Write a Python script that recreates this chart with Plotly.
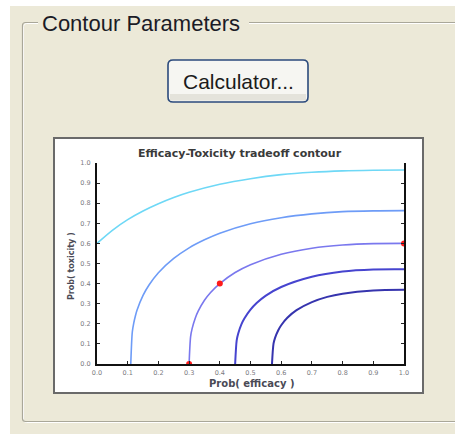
import plotly.graph_objects as go

# ---- data ----
c1_x = [0.0, 0.05, 0.1, 0.15, 0.2, 0.25, 0.3, 0.4, 0.5, 0.6, 0.7, 0.8, 0.9, 1.0]
c1_y = [0.600, 0.665, 0.718, 0.761, 0.797, 0.828, 0.854, 0.894, 0.922, 0.942, 0.954, 0.961, 0.964, 0.965]

c2_x = [0.11, 0.115, 0.12, 0.125, 0.13, 0.15, 0.17, 0.2, 0.25, 0.3, 0.35, 0.4, 0.5, 0.6, 0.7, 0.8, 0.9, 1.0]
c2_y = [0.0, 0.159, 0.206, 0.239, 0.266, 0.341, 0.394, 0.454, 0.525, 0.578, 0.618, 0.651, 0.698, 0.728, 0.747, 0.758, 0.762, 0.763]

c3_x = [0.3, 0.305, 0.31, 0.32, 0.33, 0.35, 0.37, 0.4, 0.45, 0.5, 0.6, 0.7, 0.8, 0.9, 1.0]
c3_y = [0.0, 0.137, 0.177, 0.228, 0.264, 0.317, 0.356, 0.400, 0.455, 0.494, 0.546, 0.576, 0.592, 0.599, 0.600]

c4_x = [0.45, 0.455, 0.46, 0.47, 0.48, 0.5, 0.52, 0.55, 0.6, 0.7, 0.8, 0.9, 1.0]
c4_y = [0.0, 0.118, 0.152, 0.196, 0.226, 0.270, 0.303, 0.340, 0.383, 0.434, 0.460, 0.470, 0.471]

c5_x = [0.57, 0.575, 0.58, 0.59, 0.6, 0.62, 0.65, 0.7, 0.75, 0.8, 0.9, 1.0]
c5_y = [0.0, 0.101, 0.130, 0.167, 0.193, 0.230, 0.268, 0.308, 0.334, 0.350, 0.366, 0.369]

pts_x = [0.3, 0.4, 1.0]
pts_y = [0.0, 0.4, 0.6]

tick_vals = [0.0, 0.1, 0.2, 0.3, 0.4, 0.5, 0.6, 0.7, 0.8, 0.9, 1.0]
tick_text = ["0.0", "0.1", "0.2", "0.3", "0.4", "0.5", "0.6", "0.7", "0.8", "0.9", "1.0"]

curve_colors = ["#6ED8F6", "#6E9CF7", "#7A78EE", "#4644CF", "#3634AE"]
curve_widths = [1.6, 1.6, 1.6, 2.0, 2.0]

# ---- layout geometry (pixels) ----
W, H = 455, 435
PL, PR, PT, PB = 97, 404, 163, 364   # plot area edges in px


def px(x):
    return (x - PL) / (PR - PL)


def py(y):
    return (PB - y) / (PB - PT)


def rrect_path(x0, y0, x1, y1, r):
    rx = r / (PR - PL)
    ry = r / (PB - PT)
    X0, X1 = px(x0), px(x1)
    Y0, Y1 = py(y0), py(y1)  # Y0 top (larger), Y1 bottom
    return (f"M{X0+rx},{Y0} L{X1-rx},{Y0} Q{X1},{Y0} {X1},{Y0-ry} "
            f"L{X1},{Y1+ry} Q{X1},{Y1} {X1-rx},{Y1} L{X0+rx},{Y1} "
            f"Q{X0},{Y1} {X0},{Y1+ry} L{X0},{Y0-ry} Q{X0},{Y0} {X0+rx},{Y0} Z")


BEIGE = "#ECE9D8"

fig = go.Figure()
curves = [(c1_x, c1_y), (c2_x, c2_y), (c3_x, c3_y), (c4_x, c4_y), (c5_x, c5_y)]
for (cx, cy), col, lw in zip(curves, curve_colors, curve_widths):
    fig.add_trace(go.Scatter(x=cx, y=cy, mode="lines",
                             line=dict(color=col, width=lw, shape="spline", smoothing=0.8),
                             hoverinfo="skip", showlegend=False))
fig.add_trace(go.Scatter(x=pts_x, y=pts_y, mode="markers",
                         marker=dict(color="#FF1A1A", size=6),
                         hoverinfo="skip", showlegend=False))

shapes = []
# window background
shapes.append(dict(type="rect", xref="paper", yref="paper", layer="below",
                   x0=px(10), x1=px(470), y0=py(6), y1=py(434),
                   fillcolor=BEIGE, line=dict(width=0)))
# group box (etched)
shapes.append(dict(type="path", xref="paper", yref="paper", layer="below",
                   path=rrect_path(23.5, 23.5, 470, 422.5, 3),
                   line=dict(color="#FFFFFF", width=1)))
shapes.append(dict(type="path", xref="paper", yref="paper", layer="below",
                   path=rrect_path(22.5, 22.5, 469, 421.5, 3),
                   line=dict(color="#A9A799", width=1.2)))
# gap behind group caption
shapes.append(dict(type="rect", xref="paper", yref="paper", layer="below",
                   x0=px(38), x1=px(249), y0=py(17), y1=py(28),
                   fillcolor=BEIGE, line=dict(width=0)))
# button
shapes.append(dict(type="path", xref="paper", yref="paper", layer="below",
                   path=rrect_path(168, 60, 308, 102, 5),
                   fillcolor="#F6F6F2", line=dict(color="#2B4A7C", width=1.6)))
shapes.append(dict(type="rect", xref="paper", yref="paper", layer="below",
                   x0=px(170), x1=px(306), y0=py(94), y1=py(100.5),
                   fillcolor="#E4E3DB", line=dict(width=0)))
# chart panel
shapes.append(dict(type="rect", xref="paper", yref="paper", layer="below",
                   x0=px(54), x1=px(423), y0=py(138), y1=py(393),
                   fillcolor="#FFFFFF", line=dict(color="#6A6A6A", width=2)))
fig.update_layout(shapes=shapes)

annotations = [
    dict(text="Contour Parameters", x=px(140.5), y=py(24), xref="paper", yref="paper",
         showarrow=False, xanchor="center", yanchor="middle",
         font=dict(family="Arial, Liberation Sans", size=22, color="#1B1B26")),
    dict(text="Calculator...", x=px(238.5), y=py(81), xref="paper", yref="paper",
         showarrow=False, xanchor="center", yanchor="middle",
         font=dict(family="Arial, Liberation Sans", size=21, color="#1B1B1B")),
    dict(text="<b>Efficacy-Toxicity tradeoff contour</b>", x=px(239.5), y=py(153),
         xref="paper", yref="paper", showarrow=False, xanchor="center", yanchor="middle",
         font=dict(family="DejaVu Sans", size=11, color="#3A3A3A")),
    dict(text="<b>Prob( efficacy )</b>", x=px(251.5), y=py(383.5),
         xref="paper", yref="paper", showarrow=False, xanchor="center", yanchor="middle",
         font=dict(family="DejaVu Sans", size=10, color="#4A4A55")),
    dict(text="<b>Prob( toxicity )</b>", x=px(71), y=py(266), textangle=-90,
         xref="paper", yref="paper", showarrow=False, xanchor="center", yanchor="middle",
         font=dict(family="DejaVu Sans", size=8, color="#4A4A55")),
]

tickfont = dict(family="DejaVu Sans", size=6.5, color="#7A7A80")
fig.update_layout(
    width=W, height=H,
    margin=dict(l=PL, r=W - PR, t=PT, b=H - PB, pad=0, autoexpand=False),
    paper_bgcolor="#FFFFFF", plot_bgcolor="#FFFFFF",
    annotations=annotations,
    xaxis=dict(range=[0, 1], tickvals=tick_vals, ticktext=tick_text, ticks="inside",
               ticklen=3, tickwidth=1, tickcolor="#222", showline=True, linewidth=2,
               linecolor="#111", mirror=False, showgrid=False, zeroline=False,
               tickfont=tickfont, automargin=False, fixedrange=True,
               ticklabelstandoff=1),
    xaxis2=dict(range=[0, 1], overlaying="x", side="top", anchor="y",
                tickvals=tick_vals, ticks="inside", ticklen=3, tickwidth=1, tickcolor="#333",
                showticklabels=False, showline=True, linewidth=1, linecolor="#444",
                showgrid=False, zeroline=False, fixedrange=True),
    yaxis=dict(range=[0, 1], tickvals=tick_vals, ticktext=tick_text, ticks="inside",
               ticklen=3, tickwidth=1, tickcolor="#222", showline=True, linewidth=2,
               linecolor="#111", mirror="ticks", showgrid=False, zeroline=False,
               tickfont=tickfont, automargin=False, fixedrange=True,
               ticklabelstandoff=3),
)

fig.write_html("out.html", config={"displayModeBar": False},
               post_script="document.body.style.margin='0';document.body.style.overflow='hidden';")
